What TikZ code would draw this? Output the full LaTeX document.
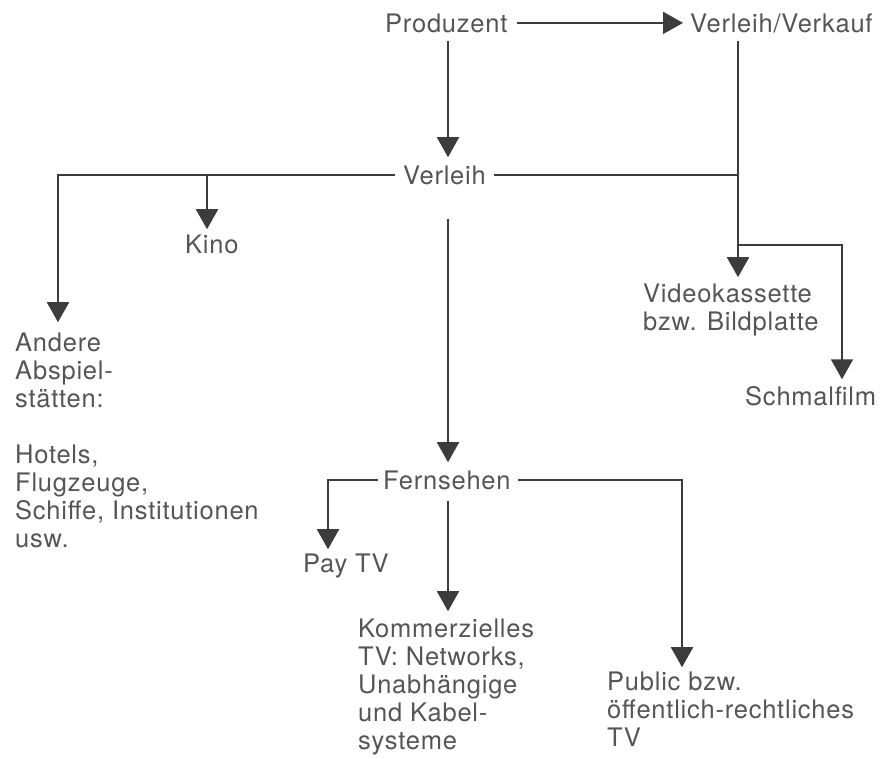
\documentclass[tikz,border=0pt]{standalone}
\usepackage{fontspec}
\setmainfont{TeX Gyre Heros}[LetterSpace=3]
\usetikzlibrary{arrows.meta}
\definecolor{tcol}{HTML}{555555}
\definecolor{lcol}{HTML}{3C3C3C}
\newcommand{\diagfont}{\fontsize{25.5}{28}\selectfont}
\newcommand{\mlines}[1]{\vtop{\baselineskip=28pt\lineskiplimit=-20pt #1}}
\begin{document}
\begin{tikzpicture}[x=1pt,y=-1pt,
  txt/.style={anchor=base west, inner sep=0pt, font=\diagfont, text=tcol},
  ln/.style={draw=lcol, line width=1.9pt},
  arr/.style={ln, -{Triangle[width=22pt,length=20pt]}}]
\useasboundingbox (0,0) rectangle (890,758);
% nodes
\node[txt] (P)  at (385,32)  {Produzent};
\node[txt] (VV) at (690,32)  {Verleih/Verkauf};
\node[txt] (V)  at (403,184) {Verleih};
\node[txt] (K)  at (185,253) {Kino};
\node[txt] (A)  at (15,351)  {\mlines{\hbox{Andere}\hbox{Abspiel-}\hbox{stätten:}\hbox{}\hbox{Hotels,}\hbox{Flugzeuge,}\hbox{Schiffe, Institutionen}\hbox{usw.}}};
\node[txt] (VK) at (643,302) {\mlines{\hbox{Videokassette}\hbox{bzw. Bildplatte}}};
\node[txt] (S)  at (745,405) {Schmalfilm};
\node[txt] (F)  at (383,489) {Fernsehen};
\node[txt] (PT) at (303,572) {Pay TV};
\node[txt] (KT) at (358,637) {\mlines{\hbox{Kommerzielles}\hbox{TV: Networks,}\hbox{Unabhängige}\hbox{und Kabel-}\hbox{systeme}}};
\node[txt] (PB) at (607,690) {\mlines{\hbox{Public bzw.}\hbox{öffentlich-rechtliches}\hbox{TV}}};
% columns and junctions
\coordinate (cx)  at (448,0);
\coordinate (vvx) at (738,0);
\coordinate (sx)  at (842,0);
\coordinate (ax)  at (58,0);
\coordinate (ptx) at (328,0);
\coordinate (pbx) at (682,0);
\coordinate (js)  at (738,245);
\coordinate (kj)  at (207,175);
% connectors
\draw[arr, shorten <=9pt, shorten >=7pt] (P.east) -- (P.east -| VV.west);
\draw[arr, shorten <=8pt, shorten >=8pt] (P.south -| cx) -- (V.north -| cx);
\draw[ln, shorten <=8pt] (V.east) -- (V.east -| vvx);
\draw[arr, shorten <=8pt, shorten >=6pt] (VV.south -| vvx) -- (VK.north -| vvx);
\draw[arr, shorten >=6.5pt] (js) -| (S.north -| sx);
\draw[arr, shorten <=8pt, shorten >=10pt] (V.west) -| (A.north -| ax);
\draw[arr, shorten >=5pt] (kj) -- (kj |- K.north);
\draw[arr, shorten <=34pt, shorten >=8pt] (V.south -| cx) -- (F.north -| cx);
\draw[arr, shorten <=5pt, shorten >=4pt] (F.west) -| (PT.north -| ptx);
\draw[arr, shorten <=11pt, shorten >=7pt] (F.south -| cx) -- (KT.north -| cx);
\draw[arr, shorten <=7pt, shorten >=4pt] (F.east) -| (PB.north -| pbx);
\end{tikzpicture}
\end{document}
